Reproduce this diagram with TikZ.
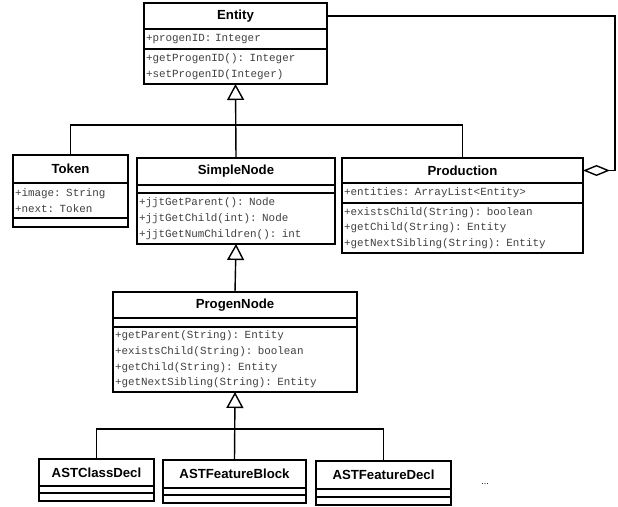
\documentclass[tikz,border=0pt]{standalone}
\usepackage{fontspec}
\setmainfont{Liberation Sans}
\newfontfamily\memberfont{Liberation Mono}
\newcommand\memberstyle{\memberfont\fontsize{10.9}{15.7}\selectfont\spaceskip=0.6em\relax\xspaceskip=0.6em\relax}
\usetikzlibrary{arrows.meta}
\begin{document}
\begin{tikzpicture}[x=1pt, y=-1pt]
      \tikzset{
	  classtitle/.style={rectangle, draw=black, line width=1.6pt, outer sep=0pt, inner sep=0pt, anchor=north west, font=\bfseries\fontsize{13.2}{15}\selectfont},
	  classpart/.style={rectangle, draw=black, line width=1.6pt, outer sep=0pt, inner xsep=2pt, inner ysep=0pt, anchor=north, align=left, text=black!75, font=\memberstyle},
	  generalization/.style={draw=black, line width=1.4pt, -{Triangle[open, length=16pt, width=17pt, line width=1.4pt]}},
	  aggregation/.style={draw=black, line width=1.4pt, -{Diamond[open, length=27pt, width=11pt, line width=1.4pt]}},
	  assoc/.style={draw=black, line width=1.4pt},
	  dotslabel/.style={font=\small}
      }

      \useasboundingbox (0,0) rectangle (618,506);

      \def\umlclass#1#2#3#4#5#6#7#8#9{%
        \node[classtitle, minimum width=#3, minimum height=#4] (#1) at (#2) {#7};
        \node[classpart, text width=#3-4pt, minimum height=#5] (#1-a) at (#1.south) {#8};
        \node[classpart, text width=#3-4pt, minimum height=#6] (#1-o) at (#1-a.south) {#9};
      }

      \umlclass{entity}{144,3}{183}{26}{20}{35}{Entity}{+progenID: Integer}{+getProgenID(): Integer\\+setProgenID(Integer)}
      \umlclass{token}{13,155}{115}{28}{35}{9}{Token}{+image: String\\+next: Token}{}
      \umlclass{simplenode}{137,158}{198}{27}{8}{51}{SimpleNode}{}{+jjtGetParent(): Node\\+jjtGetChild(int): Node\\+jjtGetNumChildren(): int}
      \umlclass{production}{342,158}{241}{25}{20}{50}{Production}{+entities: ArrayList<Entity>}{+existsChild(String): boolean\\+getChild(String): Entity\\+getNextSibling(String): Entity}
      \umlclass{progennode}{113,292}{244}{26}{9}{65}{ProgenNode}{}{+getParent(String): Entity\\+existsChild(String): boolean\\+getChild(String): Entity\\+getNextSibling(String): Entity}
      \umlclass{astclassdecl}{39,459}{115}{27}{7}{8}{ASTClassDecl}{}{}
      \umlclass{astfeatureblock}{163,460}{143}{28}{7}{8}{ASTFeatureBlock}{}{}
      \umlclass{astfeaturedecl}{316,461}{135}{28}{8}{8}{ASTFeatureDecl}{}{}
      \node[dotslabel] (more) at (485,484) {...};

      \coordinate (inhtop) at (235.5,125);
      \coordinate (inhbot) at (235,429);
      \coordinate (aggcorner) at (615,16);

      \draw[generalization] (simplenode.north) -- (entity-o.south);
      \draw[assoc] (token.north) |- (inhtop) -| (production.north);
      \draw[generalization] (progennode.north) -- (simplenode-o.south);
      \draw[generalization] (astfeatureblock.north) -- (progennode-o.south);
      \draw[assoc] (astclassdecl.north) |- (inhbot) -| (astfeaturedecl.north);
      \draw[aggregation] (entity.east) -- (aggcorner) |- (production.east);
    \end{tikzpicture}
\end{document}
